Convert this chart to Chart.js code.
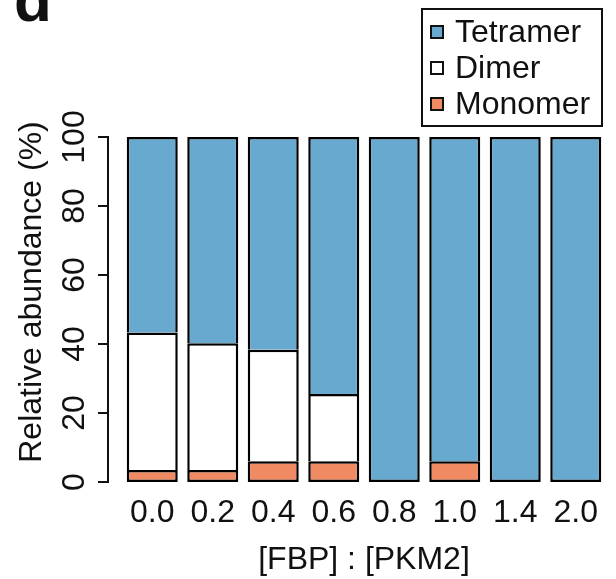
<!DOCTYPE html>
<html>
<head>
<meta charset="utf-8">
<script src="https://cdn.jsdelivr.net/npm/chart.js@4/dist/chart.umd.min.js"></script>
<style>
  html, body { margin: 0; padding: 0; background: #ffffff; }
  #wrap { width: 616px; height: 579px; position: relative; }
</style>
</head>
<body>
<div id="wrap"><canvas id="c" width="616" height="579"></canvas></div>
<script>
// [FBP] : [PKM2] ratios on the x axis
const categories = ['0.0', '0.2', '0.4', '0.6', '0.8', '1.0', '1.4', '2.0'];
// Relative abundance (%) of each oligomeric state, stacked bottom to top
const monomer  = [3.5, 3.5, 6.0, 6.0, 0, 6.0, 0, 0];
const dimer    = [39.8, 36.7, 32.3, 19.5, 0, 0, 0, 0];
const tetramer = [56.7, 59.8, 61.7, 74.5, 100, 94.0, 100, 100];
const yTicks   = [0, 20, 40, 60, 80, 100];

const FONT = '"Liberation Sans", Arial, Helvetica, sans-serif';
const INK = '#111111';
Chart.defaults.font.family = FONT;

const COLORS = { Monomer: '#ef8a62', Dimer: '#ffffff', Tetramer: '#67a9cf' };
const series = [
  { label: 'Monomer', data: monomer },
  { label: 'Dimer', data: dimer },
  { label: 'Tetramer', data: tetramer }
];

const EDGE = 2.5;
// Outline each segment, but only give the lowest visible segment a bottom edge
// so stacked boundaries stay single lines.
function segmentBorder(ctx) {
  const di = ctx.datasetIndex, i = ctx.dataIndex;
  let lowest = true;
  for (let k = 0; k < di; k++) if (series[k].data[i] > 0) lowest = false;
  return { top: EDGE, left: EDGE, right: EDGE, bottom: lowest ? EDGE : 0 };
}

// Left value axis drawn R-style: detached line, outward ticks, rotated labels.
const valueAxis = {
  id: 'valueAxis',
  afterDraw(chart) {
    const y = chart.scales.y, g = chart.ctx;
    const ax = 108;
    g.save();
    g.strokeStyle = INK; g.lineWidth = 2; g.lineCap = 'square';
    g.beginPath();
    g.moveTo(ax, y.getPixelForValue(yTicks[0]));
    g.lineTo(ax, y.getPixelForValue(yTicks[yTicks.length - 1]));
    g.stroke();
    g.lineCap = 'butt';
    g.fillStyle = INK;
    g.font = '32px ' + FONT;
    g.textAlign = 'center'; g.textBaseline = 'middle';
    yTicks.forEach(v => {
      const py = y.getPixelForValue(v);
      g.beginPath(); g.moveTo(ax - 10, py); g.lineTo(ax, py); g.stroke();
      g.save(); g.translate(75, py); g.rotate(-Math.PI / 2);
      g.fillText(String(v), 0, 0);
      g.restore();
    });
    g.save(); g.translate(32, 292); g.rotate(-Math.PI / 2);
    g.fillText('Relative abundance (%)', 0, 0);
    g.restore();
    // panel letter
    g.font = 'bold 62px ' + FONT;
    g.textAlign = 'left'; g.textBaseline = 'alphabetic';
    g.fillText('d', 14, 21);
    g.restore();
  }
};

// Boxed legend, top to bottom in stacking order reversed.
const boxLegend = {
  id: 'boxLegend',
  afterDraw(chart) {
    const g = chart.ctx;
    g.save();
    g.fillStyle = '#ffffff';
    g.fillRect(422, 9, 180, 117);
    g.strokeStyle = INK; g.lineWidth = 2;
    g.strokeRect(422, 9, 180, 117);
    const rows = [
      { label: 'Tetramer', y: 32 },
      { label: 'Dimer', y: 68 },
      { label: 'Monomer', y: 104 }
    ];
    g.font = '32px ' + FONT;
    g.textAlign = 'left'; g.textBaseline = 'middle';
    rows.forEach(r => {
      g.fillStyle = COLORS[r.label];
      g.fillRect(431, r.y - 6, 12, 12);
      g.strokeRect(431, r.y - 6, 12, 12);
      g.fillStyle = INK;
      g.fillText(r.label, 455, r.y + 1);
    });
    g.restore();
  }
};

new Chart(document.getElementById('c'), {
  type: 'bar',
  data: {
    labels: categories,
    datasets: series.map(s => ({
      label: s.label,
      data: s.data,
      backgroundColor: COLORS[s.label],
      borderColor: '#000000',
      borderWidth: segmentBorder,
      borderSkipped: false,
      inflateAmount: 0,
      barPercentage: 0.843,
      categoryPercentage: 1.0
    }))
  },
  options: {
    responsive: false,
    animation: false,
    layout: { padding: { left: 122, right: 10, top: 137, bottom: 3 } },
    plugins: { legend: { display: false }, tooltip: { enabled: false } },
    scales: {
      x: {
        stacked: true,
        grid: { display: false, drawTicks: false },
        border: { display: false },
        ticks: { color: INK, font: { size: 32, lineHeight: 1.0 }, padding: 15, maxRotation: 0, autoSkip: false },
        title: { display: true, text: '[FBP] : [PKM2]', color: INK, font: { size: 32, lineHeight: 1.0 }, padding: { top: 0, bottom: 0 } }
      },
      y: {
        stacked: true,
        display: false,
        min: 0,
        max: 100
      }
    }
  },
  plugins: [valueAxis, boxLegend]
});
</script>
</body>
</html>
